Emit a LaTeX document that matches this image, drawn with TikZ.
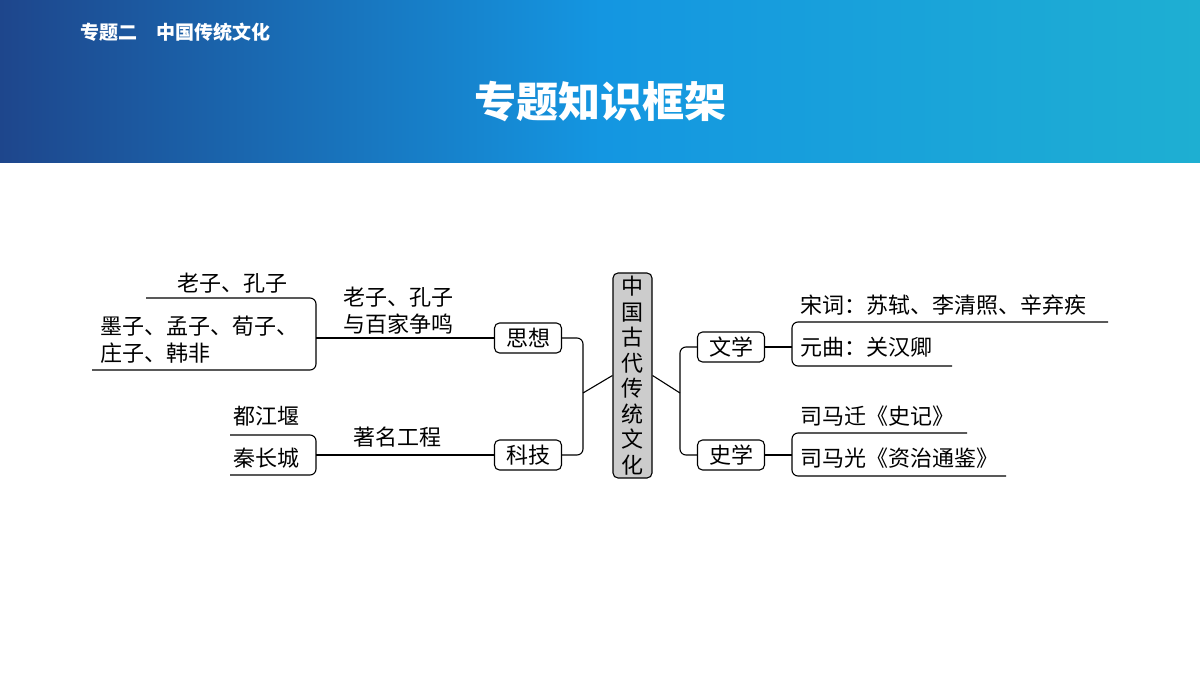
\documentclass[tikz,border=0pt]{standalone}
\usepackage{fontspec}
\setmainfont{Noto Sans CJK SC}
\usetikzlibrary{positioning}
\begin{document}
\begin{tikzpicture}[x=1pt,y=-1pt,
  txt/.style={font=\fontsize{22}{27}\selectfont,inner sep=0pt},
  box/.style={draw,line width=1.1pt,rounded corners=5pt,minimum width=67pt,minimum height=30pt,font=\fontsize{22}{27}\selectfont,inner sep=0pt},
  ln/.style={line width=1.1pt,rounded corners=6pt}]
\useasboundingbox (0,0) rectangle (1200,675);
\shade[left color={rgb,255:red,30;green,70;blue,140}, right color={rgb,255:red,30;green,175;blue,210}, middle color={rgb,255:red,20;green,150;blue,225}] (0,0) rectangle (1200,162);
\node[txt,anchor=west,text=white,font=\fontsize{19}{22}\selectfont\bfseries] (sub) at (80,32) {专题二\quad 中国传统文化};
\node[txt,text=white,font=\fontsize{42}{48}\selectfont\bfseries] (title) at (600,102) {专题知识框架};
% center
\node[draw,line width=1.1pt,rounded corners=5pt,fill=gray!40,minimum width=39pt,minimum height=205pt,inner sep=0pt,font=\fontsize{22}{25.5}\selectfont,align=center] (c) at (632.5,375.5) {中\\国\\古\\代\\传\\统\\文\\化};
\node[box] (sx) at (528,338) {思想};
\node[box] (kj) at (528,455) {科技};
\node[box] (wx) at (731,347) {文学};
\node[box] (shx) at (731,455) {史学};
\coordinate (lj) at (583,393);
\coordinate (rj) at (680,393);
\draw[ln] (sx.east) -| (lj) |- (kj.east);
\draw[line width=1.1pt] (lj) -- (c.west);
\draw[line width=1.1pt] (c.east) -- (rj);
\draw[ln] (wx.west) -| (rj) |- (shx.west);
% left upper
\coordinate (b1) at (316,338);
\draw[line width=1.1pt] (sx.west) -- (b1);
\draw[ln] (146,298) -- (316,298) -- (316,370) -- (92,370);
\node[txt] (t1) at (232,283) {老子、孔子};
\node[txt,anchor=west,align=left] (t2) at (100,340) {墨子、孟子、荀子、\\庄子、韩非};
\node[txt,anchor=west,align=left] (l1) at (343,311) {老子、孔子\\与百家争鸣};
% left lower
\coordinate (b2) at (316,455);
\draw[line width=1.1pt] (kj.west) -- (b2);
\draw[ln] (230,435) -- (316,435) -- (316,475) -- (230,475);
\node[txt] (t3) at (266,416) {都江堰};
\node[txt] (t4) at (266,458) {秦长城};
\node[txt] (l2) at (397,437) {著名工程};
% right upper
\coordinate (b3) at (792,347);
\draw[line width=1.1pt] (wx.east) -- (b3);
\draw[ln] (1108,322) -- (792,322) -- (792,366) -- (952,366);
\node[txt,anchor=west] (t5) at (800,305) {宋词：苏轼、李清照、辛弃疾};
\node[txt,anchor=west] (t6) at (800,347) {元曲：关汉卿};
% right lower
\coordinate (b4) at (792,455);
\draw[line width=1.1pt] (shx.east) -- (b4);
\draw[ln] (967,433) -- (792,433) -- (792,476) -- (1006,476);
\node[txt,anchor=west] (t7) at (800,416) {司马迁《史记》};
\node[txt,anchor=west] (t8) at (800,458) {司马光《资治通鉴》};
\end{tikzpicture}
\end{document}
